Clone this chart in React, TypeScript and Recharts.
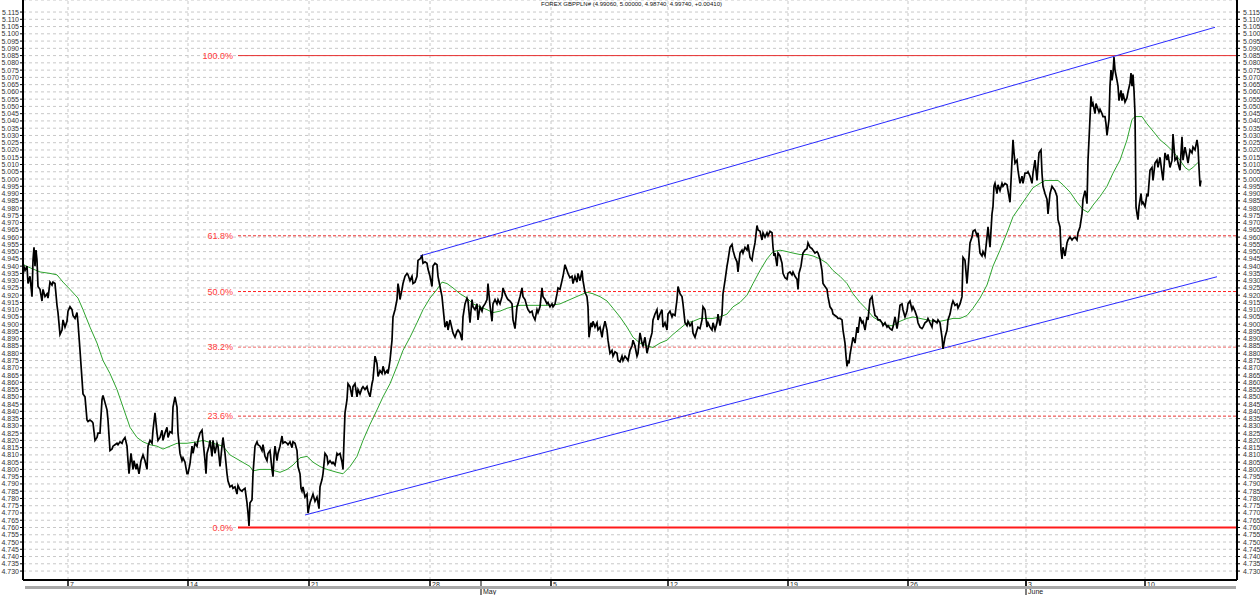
import React from 'react';
import { ComposedChart, Line, XAxis, YAxis, CartesianGrid, ReferenceLine } from 'recharts';

const titleText = 'FOREX GBPPLN# (4.99060, 5.00000, 4.98740, 4.99740, +0.00410)';

// [hour index, price]
const pricePoints: [number, number][] = [
[0,4.942],[2,4.937],[4,4.940],[5,4.928],[7,4.933],[9,4.919],[10,4.944],[11,4.953],[12,4.940],[13,4.951],[14,4.944],[15,4.926],[17,4.924],[19,4.916],[20,4.924],[22,4.919],[24,4.921],[25,4.918],[27,4.929],[29,4.927],[30,4.929],[32,4.928],[34,4.913],[35,4.908],[37,4.893],[39,4.896],[40,4.903],[42,4.898],[44,4.902],[45,4.909],[47,4.912],[49,4.910],[50,4.906],[52,4.904],[54,4.908],[55,4.901],[57,4.882],[59,4.862],[60,4.852],[62,4.850],[64,4.834],[65,4.833],[67,4.834],[69,4.833],[70,4.832],[72,4.820],[74,4.822],[75,4.825],[77,4.825],[79,4.848],[80,4.851],[82,4.846],[84,4.841],[85,4.834],[87,4.813],[89,4.814],[90,4.816],[92,4.817],[94,4.818],[95,4.817],[97,4.819],[99,4.818],[100,4.820],[102,4.822],[104,4.816],[105,4.806],[106,4.797],[108,4.811],[110,4.800],[111,4.806],[113,4.800],[114,4.804],[116,4.797],[118,4.806],[120,4.810],[122,4.806],[124,4.800],[125,4.816],[127,4.820],[129,4.818],[130,4.827],[132,4.839],[134,4.825],[135,4.820],[137,4.822],[139,4.827],[140,4.820],[142,4.825],[144,4.829],[145,4.822],[147,4.826],[149,4.825],[150,4.843],[152,4.850],[154,4.843],[155,4.825],[157,4.811],[159,4.806],[160,4.808],[162,4.805],[164,4.797],[165,4.797],[167,4.804],[169,4.816],[170,4.811],[172,4.818],[174,4.816],[175,4.820],[177,4.825],[179,4.827],[180,4.820],[182,4.806],[183,4.797],[184,4.811],[186,4.816],[187,4.820],[189,4.809],[190,4.820],[192,4.811],[194,4.818],[195,4.816],[197,4.802],[199,4.816],[200,4.822],[202,4.811],[204,4.797],[205,4.792],[207,4.788],[209,4.789],[210,4.787],[212,4.788],[214,4.783],[215,4.789],[217,4.786],[219,4.785],[220,4.786],[222,4.787],[224,4.777],[225,4.770],[226,4.761],[227,4.777],[229,4.779],[230,4.797],[232,4.816],[234,4.819],[235,4.817],[237,4.816],[239,4.813],[240,4.817],[242,4.809],[244,4.806],[245,4.811],[247,4.813],
[249,4.800],[250,4.795],[251,4.809],[252,4.816],[254,4.806],[255,4.811],[257,4.816],[259,4.823],[260,4.818],[262,4.819],[264,4.818],[265,4.817],[267,4.819],[269,4.815],[270,4.819],[272,4.818],[274,4.813],[275,4.802],[277,4.797],[278,4.787],[279,4.785],[280,4.788],[282,4.781],[284,4.783],[285,4.770],[287,4.777],[289,4.781],[290,4.783],[292,4.778],[294,4.781],[295,4.777],[296,4.773],[297,4.788],[299,4.793],[300,4.797],[302,4.811],[304,4.809],[305,4.804],[307,4.806],[309,4.804],[310,4.805],[312,4.803],[314,4.811],[315,4.810],[317,4.811],[319,4.805],[320,4.800],[321,4.820],[322,4.839],[324,4.848],[325,4.859],[327,4.857],[329,4.850],[330,4.857],[332,4.859],[334,4.850],[335,4.855],[337,4.852],[339,4.856],[340,4.857],[342,4.855],[344,4.857],[345,4.854],[347,4.850],[349,4.859],[350,4.862],[352,4.878],[354,4.873],[355,4.864],[357,4.868],[359,4.866],[360,4.871],[362,4.866],[364,4.868],[365,4.866],[367,4.875],[369,4.889],[370,4.905],[372,4.910],[374,4.917],[375,4.928],[376,4.924],[377,4.917],[379,4.924],[380,4.928],[382,4.933],[384,4.935],[385,4.934],[387,4.930],[389,4.933],[390,4.928],[392,4.929],[394,4.933],[395,4.944],[397,4.945],[399,4.947],[400,4.942],[402,4.943],[404,4.942],[405,4.938],[407,4.933],[409,4.926],[410,4.940],[412,4.942],[414,4.941],[415,4.933],[417,4.926],[419,4.919],[420,4.912],[422,4.898],[424,4.902],[425,4.896],[427,4.903],[429,4.897],[430,4.894],[432,4.891],[434,4.895],[435,4.896],[437,4.894],[439,4.889],[440,4.905],[442,4.914],[444,4.918],[445,4.916],[447,4.901],[449,4.917],[450,4.912],[452,4.910],[454,4.914],[455,4.903],[457,4.912],[459,4.909],[460,4.912],[462,4.914],[464,4.917],[465,4.928],[467,4.913],[469,4.902],[470,4.914],[472,4.917],[474,4.914],[475,4.917],[477,4.914],[479,4.919],[480,4.925],[482,4.921],[484,4.918],[485,4.917],[487,4.916],
[489,4.914],[490,4.903],[492,4.897],[494,4.912],[495,4.914],[497,4.919],[499,4.925],[500,4.919],[502,4.917],[504,4.912],[505,4.910],[507,4.908],[509,4.909],[510,4.906],[512,4.903],[514,4.910],[515,4.908],[517,4.912],[519,4.925],[520,4.919],[522,4.917],[524,4.914],[525,4.915],[527,4.912],[529,4.914],[530,4.912],[532,4.914],[534,4.921],[535,4.925],[537,4.924],[539,4.930],[540,4.933],[542,4.941],[544,4.937],[545,4.935],[547,4.932],[549,4.933],[550,4.928],[552,4.933],[554,4.929],[555,4.935],[557,4.930],[559,4.937],[560,4.930],[562,4.922],[564,4.919],[565,4.912],[566,4.891],[568,4.901],[569,4.898],[570,4.902],[572,4.898],[574,4.901],[575,4.896],[577,4.898],[579,4.891],[580,4.896],[582,4.902],[584,4.896],[585,4.889],[587,4.880],[589,4.882],[590,4.878],[592,4.881],[594,4.880],[595,4.875],[597,4.874],[599,4.878],[600,4.875],[602,4.878],[604,4.876],[605,4.875],[607,4.882],[609,4.885],[610,4.889],[612,4.885],[614,4.878],[615,4.880],[617,4.894],[619,4.887],[620,4.885],[622,4.891],[624,4.880],[625,4.883],[627,4.889],[629,4.894],[630,4.903],[632,4.907],[634,4.910],[635,4.903],[637,4.907],[639,4.910],[640,4.898],[642,4.901],[644,4.896],[645,4.907],[647,4.909],[649,4.905],[650,4.907],[652,4.906],[654,4.917],[655,4.926],[657,4.921],[659,4.919],[660,4.914],[662,4.901],[664,4.899],[665,4.902],[667,4.899],[669,4.901],[670,4.894],[672,4.891],[674,4.896],[675,4.898],[677,4.897],[679,4.903],[680,4.912],[682,4.910],[684,4.898],[685,4.901],[687,4.898],[689,4.896],[690,4.901],[692,4.896],[694,4.901],[695,4.907],[697,4.899],[699,4.907],[700,4.921],[702,4.930],[704,4.940],[705,4.944],[707,4.953],[709,4.955],[710,4.951],[712,4.946],[714,4.943],[715,4.936],[717,4.949],[719,4.951],[720,4.949],[722,4.953],[724,4.951],[725,4.955],[727,4.946],
[729,4.944],[730,4.949],[732,4.956],[734,4.968],[735,4.965],[737,4.964],[739,4.958],[740,4.963],[742,4.960],[744,4.963],[745,4.961],[747,4.964],[749,4.963],[750,4.953],[751,4.947],[752,4.949],[754,4.940],[755,4.949],[757,4.947],[759,4.942],[760,4.935],[762,4.932],[764,4.931],[765,4.935],[767,4.936],[769,4.934],[770,4.936],[772,4.933],[774,4.931],[775,4.924],[776,4.935],[778,4.940],[779,4.945],[780,4.949],[782,4.951],[784,4.952],[785,4.956],[787,4.953],[789,4.952],[790,4.951],[792,4.949],[794,4.950],[795,4.949],[797,4.945],[799,4.937],[800,4.928],[802,4.926],[804,4.924],[805,4.919],[807,4.912],[809,4.910],[810,4.907],[812,4.906],[814,4.905],[815,4.904],[817,4.904],[819,4.903],[820,4.896],[822,4.887],[823,4.878],[824,4.871],[825,4.875],[826,4.873],[827,4.879],[829,4.887],[830,4.891],[832,4.887],[834,4.898],[835,4.894],[837,4.905],[839,4.901],[840,4.902],[842,4.896],[844,4.905],[845,4.903],[847,4.917],[849,4.919],[850,4.914],[852,4.906],[854,4.905],[855,4.903],[857,4.903],[859,4.901],[860,4.899],[862,4.901],[864,4.898],[865,4.899],[867,4.897],[869,4.896],[870,4.898],[872,4.905],[874,4.897],[875,4.901],[877,4.913],[879,4.914],[880,4.910],[882,4.905],[884,4.909],[885,4.914],[887,4.916],[889,4.910],[890,4.912],[892,4.909],[894,4.905],[895,4.901],[897,4.898],[899,4.897],[900,4.898],[902,4.901],[904,4.902],[905,4.904],[907,4.901],[909,4.898],[910,4.903],[912,4.902],[914,4.901],[915,4.903],[917,4.901],[919,4.891],[920,4.883],[922,4.891],[924,4.896],[925,4.903],[927,4.907],[929,4.914],[930,4.916],[932,4.913],[934,4.914],[935,4.911],[937,4.914],[939,4.919],[940,4.946],[942,4.944],[944,4.928],[945,4.937],[947,4.956],[949,4.960],[950,4.964],[952,4.965],[954,4.961],[955,4.963],[957,4.949],[959,4.947],[960,4.950],[962,4.947],[964,4.960],[965,4.967],[967,4.953],
[969,4.976],[970,4.981],[971,4.995],[972,4.997],[974,4.990],[975,4.996],[977,4.992],[979,4.997],[980,4.995],[982,4.997],[984,4.996],[985,4.992],[987,4.984],[989,5.013],[990,5.027],[991,5.018],[992,5.011],[994,5.013],[995,5.006],[997,4.997],[999,5.002],[1000,4.997],[1002,5.004],[1004,5.004],[1005,5.005],[1007,5.002],[1009,4.997],[1010,5.004],[1012,5.013],[1014,4.999],[1015,5.009],[1016,5.018],[1018,5.020],[1019,5.004],[1020,4.995],[1022,4.990],[1024,4.986],[1025,4.976],[1027,4.990],[1029,4.995],[1030,4.994],[1032,4.992],[1034,4.988],[1035,4.972],[1037,4.967],[1038,4.951],[1039,4.945],[1040,4.953],[1042,4.947],[1044,4.956],[1045,4.958],[1047,4.960],[1049,4.958],[1050,4.959],[1052,4.960],[1054,4.958],[1055,4.963],[1057,4.967],[1059,4.976],[1060,4.986],[1062,4.992],[1063,4.988],[1064,4.983],[1065,5.013],[1066,5.027],[1068,5.057],[1069,5.050],[1070,5.052],[1072,5.045],[1073,5.052],[1074,5.050],[1076,5.046],[1077,5.048],[1079,5.045],[1080,5.043],[1082,5.043],[1083,5.038],[1084,5.030],[1086,5.041],[1087,5.064],[1088,5.075],[1089,5.068],[1090,5.073],[1091,5.084],[1092,5.075],[1094,5.068],[1095,5.064],[1096,5.054],[1098,5.061],[1099,5.054],[1100,5.059],[1102,5.053],[1104,5.056],[1105,5.060],[1107,5.066],[1108,5.073],[1109,5.064],[1110,5.072],[1111,5.061],[1112,5.045],[1113,4.981],[1114,4.976],[1115,4.972],[1116,4.981],[1118,4.990],[1119,4.983],[1120,4.984],[1122,4.981],[1124,4.990],[1125,4.988],[1127,5.006],[1129,5.008],[1130,4.999],[1132,5.011],[1134,5.013],[1135,5.008],[1137,5.015],[1139,5.004],[1140,4.999],[1142,5.018],[1144,5.013],[1145,5.017],[1147,5.008],[1149,5.013],[1150,5.031],[1152,5.013],[1154,5.015],[1155,5.011],[1157,5.006],[1159,5.029],[1160,5.013],[1162,5.022],[1164,5.015],[1165,5.011],[1167,5.020],[1169,5.018],[1170,5.022],[1172,5.020],[1174,5.027],[1175,5.022],[1176,5.008],[1177,4.995],[1178,4.999]
];

// moving average (green)
const maPoints: [number, number][] = [
[0,4.941],[10,4.938],[17,4.936],[27,4.935],[34,4.934],[40,4.929],[47,4.924],[55,4.918],[60,4.910],[67,4.898],[74,4.887],[80,4.875],[87,4.866],[94,4.855],[100,4.843],[107,4.829],[114,4.822],[120,4.819],[127,4.817],[134,4.816],[140,4.814],[147,4.816],[154,4.818],[164,4.818],[174,4.819],[180,4.820],[190,4.818],[200,4.816],[207,4.810],[217,4.806],[227,4.802],[230,4.799],[237,4.800],[247,4.800],[257,4.798],[264,4.800],[270,4.803],[277,4.808],[284,4.809],[290,4.805],[297,4.802],[304,4.800],[314,4.798],[320,4.797],[327,4.802],[334,4.809],[340,4.820],[347,4.831],[354,4.841],[360,4.850],[367,4.859],[374,4.871],[380,4.882],[387,4.891],[394,4.901],[400,4.910],[407,4.918],[414,4.924],[419,4.929],[424,4.928],[430,4.925],[437,4.921],[444,4.918],[450,4.914],[457,4.912],[464,4.910],[470,4.908],[477,4.909],[484,4.911],[490,4.912],[497,4.913],[507,4.913],[517,4.913],[527,4.913],[537,4.914],[547,4.917],[557,4.920],[564,4.922],[570,4.921],[577,4.919],[584,4.916],[590,4.911],[597,4.905],[604,4.898],[610,4.891],[617,4.887],[624,4.885],[630,4.884],[637,4.887],[644,4.889],[650,4.893],[657,4.897],[664,4.901],[670,4.902],[677,4.904],[684,4.904],[690,4.904],[697,4.905],[704,4.907],[710,4.912],[717,4.915],[724,4.920],[730,4.928],[737,4.937],[744,4.945],[750,4.950],[757,4.951],[764,4.950],[770,4.949],[777,4.948],[784,4.948],[790,4.947],[797,4.945],[804,4.942],[810,4.937],[817,4.933],[824,4.928],[830,4.921],[837,4.915],[844,4.910],[850,4.905],[857,4.902],[864,4.899],[870,4.899],[877,4.902],[884,4.904],[890,4.905],[897,4.904],[904,4.903],[910,4.902],[917,4.902],[924,4.903],[930,4.904],[937,4.904],[944,4.906],[950,4.911],[957,4.918],[964,4.927],[970,4.940],[977,4.951],[984,4.963],[990,4.974],[997,4.981],[1004,4.988],[1010,4.994],[1017,4.997],[1022,4.999],[1029,4.999],[1035,4.999],[1040,4.996],[1047,4.991],[1054,4.984],[1060,4.979],[1065,4.977],[1070,4.982],[1077,4.988],[1084,4.995],[1090,5.004],[1097,5.013],[1104,5.027],[1109,5.041],[1112,5.043],[1119,5.043],[1124,5.038],[1130,5.033],[1137,5.027],[1144,5.023],[1150,5.019],[1157,5.013],[1162,5.008],[1166,5.006],[1170,5.008],[1176,5.012]
];

const upperChannel: [number, number][] = [[397, 4.947], [1192, 5.1045]];
const lowerChannel: [number, number][] = [[282, 4.7686], [1194, 4.9327]];

const fibLabels = ['0.0%', '23.6%', '38.2%', '50.0%', '61.8%', '100.0%'];
const fibValues = [4.760, 4.8367, 4.8842, 4.9225, 4.9609, 5.085];
const fibColors = ['#ff1a1a', '#e83030', '#f07070', '#ff2020', '#e83030', '#e63030'];
const fibWidths = [2, 1, 1, 1, 1, 1];
const fibDashed = [false, true, true, true, true, false];
const fibRange: [number, number] = [215, 1214];

const weekTickHours = [45, 165, 286, 407, 528, 645, 765, 885, 1003, 1122];
const weekTickLabels = ['7', '14', '21', '28', '5', '12', '19', '26', '3', '10'];
const monthTickHours = [458, 1003];
const monthTickLabels = ['May', 'June'];

const priceTicks = [4.730,4.735,4.740,4.745,4.750,4.755,4.760,4.765,4.770,4.775,4.780,4.785,4.790,4.795,4.800,4.805,4.810,4.815,4.820,4.825,4.830,4.835,4.840,4.845,4.850,4.855,4.860,4.865,4.870,4.875,4.880,4.885,4.890,4.895,4.900,4.905,4.910,4.915,4.920,4.925,4.930,4.935,4.940,4.945,4.950,4.955,4.960,4.965,4.970,4.975,4.980,4.985,4.990,4.995,5.000,5.005,5.010,5.015,5.020,5.025,5.030,5.035,5.040,5.045,5.050,5.055,5.060,5.065,5.070,5.075,5.080,5.085,5.090,5.095,5.100,5.105,5.110,5.115];

const yDomain: [number, number] = [4.72384, 5.12329];
const xDomain: [number, number] = [0, 1214];

const priceData = pricePoints.map(([h, v]) => ({ h, v }));
const maData = maPoints.map(([h, v]) => ({ h, v }));
const allXTicks = Array.from(new Set([...weekTickHours, ...monthTickHours])).sort((a, b) => a - b);

const XTick = (props: any) => {
  const { x, y, payload } = props;
  const h = payload.value;
  const wi = weekTickHours.indexOf(h);
  const mi = monthTickHours.indexOf(h);
  return (
    <g>
      {mi >= 0 && (
        <g>
          <line x1={x} y1={y} x2={x} y2={y + 15} stroke="#000" strokeWidth={1} />
          <text x={x + 2} y={y + 14} fontSize={7} fill="#222">{monthTickLabels[mi]}</text>
        </g>
      )}
      {wi >= 0 && (
        <g>
          <line x1={x} y1={y} x2={x} y2={y + 9} stroke="#000" strokeWidth={1.5} />
          <text x={x + 2} y={y + 7} fontSize={7} fill="#222">{weekTickLabels[wi]}</text>
        </g>
      )}
    </g>
  );
};

const fmt = (v: number) => v.toFixed(3);

export default function App() {
  return (
    <div style={{ position: 'absolute', left: 0, top: 0, width: 1260, height: 595, background: '#fff', fontFamily: '"Liberation Sans", Arial, sans-serif', overflow: 'hidden' }}>
      <ComposedChart width={1260} height={595} margin={{ top: 0, right: 0, bottom: 0, left: 0 }}>
        <CartesianGrid vertical={false} stroke="#c8c8c8" strokeDasharray="3 3" />
        <XAxis
          dataKey="h"
          type="number"
          domain={xDomain}
          allowDataOverflow
          ticks={allXTicks}
          interval={0}
          height={15}
          tickSize={0}
          tickMargin={0}
          tickLine={false}
          axisLine={{ stroke: '#000', strokeWidth: 2 }}
          tick={<XTick />}
        />
        <YAxis
          type="number"
          domain={yDomain}
          allowDataOverflow
          ticks={priceTicks}
          interval={0}
          width={23}
          tickSize={3}
          tickMargin={1}
          tickFormatter={fmt}
          tick={{ fontSize: 7, fill: '#333' }}
          tickLine={{ stroke: '#000' }}
          axisLine={{ stroke: '#000', strokeWidth: 2 }}
        />
        <YAxis
          yAxisId="r"
          orientation="right"
          type="number"
          domain={yDomain}
          allowDataOverflow
          ticks={priceTicks}
          interval={0}
          width={23}
          tickSize={3}
          tickMargin={3}
          tickFormatter={fmt}
          tick={{ fontSize: 7, fill: '#333' }}
          tickLine={{ stroke: '#000' }}
          axisLine={{ stroke: '#000', strokeWidth: 2 }}
        />
        {weekTickHours.map((h) => (
          <ReferenceLine key={'vg' + h} x={h} stroke="#c8c8c8" strokeDasharray="3 3" />
        ))}
        {fibValues.map((v, i) => (
          <ReferenceLine
            key={'fib' + i}
            segment={[{ x: fibRange[0], y: v }, { x: fibRange[1], y: v }]}
            stroke={fibColors[i]}
            strokeWidth={fibWidths[i]}
            strokeDasharray={fibDashed[i] ? '3 2' : undefined}
            label={{ value: fibLabels[i], position: 'left', fill: '#ff3a3a', fontSize: 9, offset: 5 }}
          />
        ))}
        <ReferenceLine
          segment={[{ x: upperChannel[0][0], y: upperChannel[0][1] }, { x: upperChannel[1][0], y: upperChannel[1][1] }]}
          stroke="#2a2aff"
          strokeWidth={1}
          ifOverflow="visible"
        />
        <ReferenceLine
          segment={[{ x: lowerChannel[0][0], y: lowerChannel[0][1] }, { x: lowerChannel[1][0], y: lowerChannel[1][1] }]}
          stroke="#2a2aff"
          strokeWidth={1}
          ifOverflow="visible"
        />
        <Line data={maData} dataKey="v" type="linear" stroke="#2ea42e" strokeWidth={1} dot={false} isAnimationActive={false} />
        <Line data={priceData} dataKey="v" type="linear" stroke="#000" strokeWidth={1.7} dot={false} isAnimationActive={false} />
      </ComposedChart>
      <div style={{ position: 'absolute', left: 25, top: 586, width: 1211, height: 3, background: '#a8a8a8' }} />
      <div style={{ position: 'absolute', left: 541, top: 0, fontSize: 6, lineHeight: '8px', color: '#111', whiteSpace: 'nowrap' }}>{titleText}</div>
    </div>
  );
}
